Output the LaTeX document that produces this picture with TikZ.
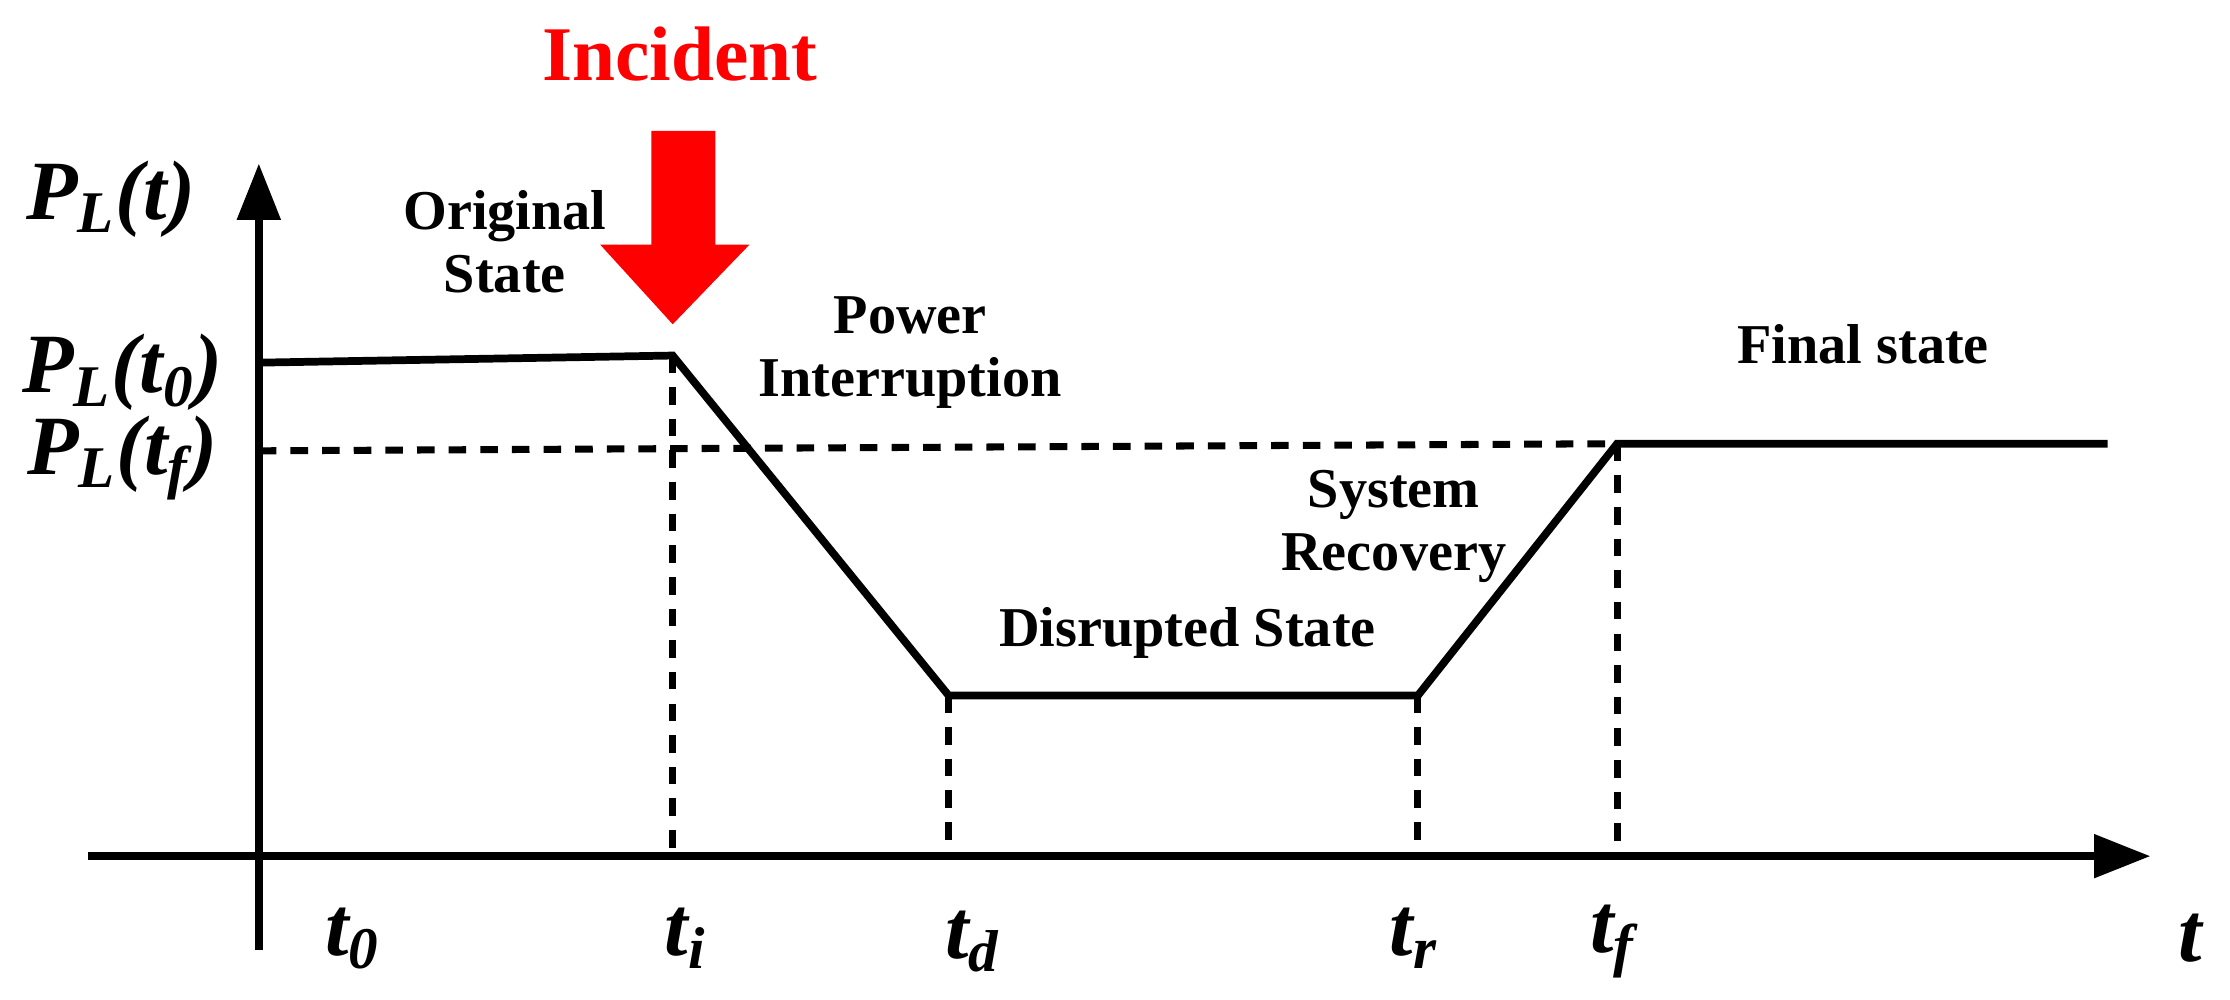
\documentclass[tikz,border=0pt]{standalone}
\usepackage{fontspec}
\setmainfont{Liberation Serif}
\usetikzlibrary{arrows.meta}
\begin{document}
\begin{tikzpicture}[
    x=0.01422cm,y=-0.01422cm,
    curve/.style={black,line width=2.2pt},
    guide/.style={black,line width=2pt,dash pattern=on 5pt off 4pt},
    axis/.style={black,line width=2.2pt,-{Triangle[length=16pt,width=12pt]}},
    lab/.style={font=\bfseries\fontsize{16}{18}\selectfont,align=center},
    sym/.style={font=\bfseries\itshape\fontsize{24}{26}\selectfont}
    ]
    \useasboundingbox (0,0) rectangle (1568,703);
    % axes
    \coordinate (ybot) at (182,668);
    \coordinate (ytop) at (182,115);
    \coordinate (xl) at (62,602);
    \coordinate (xr) at (1512,602);
    \draw[axis] (ybot) -- (ytop);
    \draw[axis] (xl) -- (xr);
    % curve points
    \coordinate (p0) at (182,255);
    \coordinate (pi) at (473,250);
    \coordinate (pd) at (667,489);
    \coordinate (pr) at (997,489);
    \coordinate (pf) at (1137,312);
    \coordinate (pe) at (1482,312);
    \coordinate (q0) at (182,317);
    \foreach \n/\x in {i/473,d/667,r/997,f/1137}
      \coordinate (b\n) at (\x,602);
    \draw[guide] (q0) -- (pf);
    \foreach \n in {i,d,r,f}
      \draw[guide] (p\n) -- (b\n);
    \draw[curve,line join=miter] (p0) -- (pi) -- (pd) -- (pr) -- (pf) -- (pe);
    % incident arrow
    \fill[red] (458,92) -- (503,92) -- (503,172) -- (527,172) -- (473,228)
      -- (422,172) -- (458,172) -- cycle;
    \node[red,font=\bfseries\fontsize{22}{24}\selectfont] (inc) at (478,38) {Incident};
    % labels
    \node[lab] (orig) at (355,170) {Original\\State};
    \node[lab] (intr) at (640,248) {Power\\Interruption};
    \node[lab] (fin) at (1310,242) {Final state};
    \node[lab] (rec) at (980,370) {System\\Recovery};
    \node[lab] (dis) at (835,445) {Disrupted State};
    \node[sym] (pt) at (78,140) {P\textsubscript{L}(t)};
    \node[sym] (pt0) at (86,262) {P\textsubscript{L}(t\textsubscript{0})};
    \node[sym] (ptf) at (86,322) {P\textsubscript{L}(t\textsubscript{f})};
    \node[sym] (t0) at (248,660) {t\textsubscript{0}};
    \node[sym] (ti) at (482,660) {t\textsubscript{i}};
    \node[sym] (td) at (684,662) {t\textsubscript{d}};
    \node[sym] (tr) at (994,660) {t\textsubscript{r}};
    \node[sym] (tf) at (1134,662) {t\textsubscript{f}};
    \node[sym] (t) at (1540,660) {t};
  \end{tikzpicture}
\end{document}
